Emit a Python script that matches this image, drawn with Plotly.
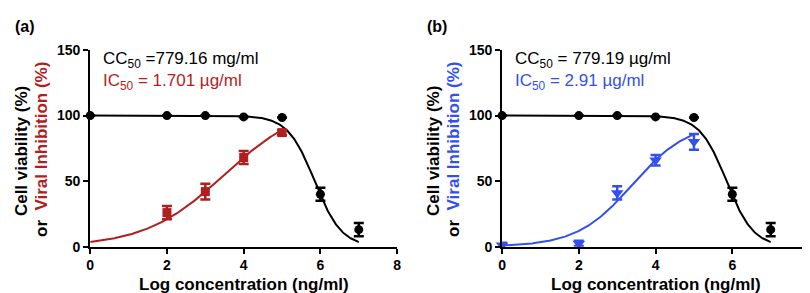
import numpy as np
import plotly.graph_objects as go

# ---- data ----
log_conc = [0, 2, 3, 4, 5, 6, 7]
viability = [100, 100, 100, 99, 98.5, 40, 13]
viability_err = [0, 0, 0, 0, 0, 5, 5]

inh_a_x = [2, 3, 4, 5]
inh_a = [26, 42, 68, 87]
inh_a_err = [5, 6, 5, 2]

inh_b_x = [0, 2, 3, 4, 5]
inh_b = [1, 2.5, 41, 66, 80]
inh_b_err = [2, 2, 5, 4, 6]

# fitted 4-parameter logistic parameters (bottom, top, logEC50, hill)
fit_cc = dict(bottom=0, top=100, logec=5.85, hill=-1.24)
fit_ic_a = dict(bottom=0, top=110, logec=3.5, hill=0.42)
fit_ic_b = dict(bottom=0, top=95, logec=3.4, hill=0.6)

x_ticks = [0, 2, 4, 6, 8]
y_ticks = [0, 50, 100, 150]

RED = "#B01E1E"
BLUE = "#3350EE"
FONT = "Liberation Sans, Arial, sans-serif"


def fourpl(x, p):
    x = np.asarray(x, dtype=float)
    return p["bottom"] + (p["top"] - p["bottom"]) / (1 + 10 ** ((p["logec"] - x) * p["hill"]))


fig = go.Figure()

panels = [
    dict(xa="x", ya="y", ix=inh_a_x, iy=inh_a, ie=inh_a_err, fit=fit_ic_a, color=RED,
         symbol="square", size=9, cc_txt="CC<sub>50</sub> =779.16 mg/ml",
         ic_txt="IC<sub>50</sub> = 1.701 µg/ml", label="(a)"),
    dict(xa="x2", ya="y2", ix=inh_b_x, iy=inh_b, ie=inh_b_err, fit=fit_ic_b, color=BLUE,
         symbol="triangle-down", size=11, cc_txt="CC<sub>50</sub> = 779.19 µg/ml",
         ic_txt="IC<sub>50</sub> = 2.91 µg/ml", label="(b)"),
]

xc = np.linspace(0, 7, 300)
for p in panels:
    xi = np.linspace(0, 5, 300)
    fig.add_trace(go.Scatter(x=xc, y=fourpl(xc, fit_cc), mode="lines",
                             line=dict(color="black", width=2), xaxis=p["xa"], yaxis=p["ya"],
                             cliponaxis=False, hoverinfo="skip"))
    fig.add_trace(go.Scatter(x=xi, y=fourpl(xi, p["fit"]), mode="lines",
                             line=dict(color=p["color"], width=2), xaxis=p["xa"], yaxis=p["ya"],
                             cliponaxis=False, hoverinfo="skip"))
    fig.add_trace(go.Scatter(x=log_conc, y=viability, mode="markers",
                             marker=dict(color="black", size=9, symbol="circle"),
                             error_y=dict(type="data", array=viability_err, color="black",
                                          thickness=2.5, width=5, visible=True),
                             xaxis=p["xa"], yaxis=p["ya"], cliponaxis=False))
    fig.add_trace(go.Scatter(x=p["ix"], y=p["iy"], mode="markers",
                             marker=dict(color=p["color"], size=p["size"], symbol=p["symbol"]),
                             error_y=dict(type="data", array=p["ie"], color=p["color"],
                                          thickness=2.5, width=5, visible=True),
                             xaxis=p["xa"], yaxis=p["ya"], cliponaxis=False))

W, H = 810, 293
ax_common = dict(showgrid=False, zeroline=False, showline=True, linecolor="black", linewidth=2,
                 ticks="outside", ticklen=5, tickwidth=2, tickcolor="black",
                 tickfont=dict(family=FONT, size=14, color="black", weight="bold"))

y_dom = [(H - 244) / H, (H - 36) / H]
layout = dict(
    width=W, height=H, margin=dict(l=0, r=0, t=0, b=0),
    paper_bgcolor="white", plot_bgcolor="white", showlegend=False,
    xaxis=dict(domain=[79 / W, 389 / W], range=[0, 8], tickvals=x_ticks, anchor="y", **ax_common),
    yaxis=dict(domain=y_dom, range=[0, 150], tickvals=y_ticks, anchor="x", **ax_common),
    xaxis2=dict(domain=[495 / W, 805 / W], range=[0, 8], tickvals=x_ticks, anchor="y2", **ax_common),
    yaxis2=dict(domain=y_dom, range=[0, 150], tickvals=y_ticks, anchor="x2", **ax_common),
)
fig.update_layout(**layout)

ann = []
offsets = [0, 416]
for p, off in zip(panels, offsets):
    ann.append(dict(x=(off + 1) / W, y=1 - 11 / H, xref="paper", yref="paper", xanchor="left",
                    yanchor="middle", text="<b>" + p["label"] + "</b>", showarrow=False,
                    font=dict(family=FONT, size=16, color="black")))
    ann.append(dict(x=(off + 90) / W, y=1 - 47 / H, xref="paper", yref="paper", xanchor="left",
                    yanchor="middle", text=p["cc_txt"], showarrow=False,
                    font=dict(family=FONT, size=17, color="black")))
    ann.append(dict(x=(off + 90) / W, y=1 - 70 / H, xref="paper", yref="paper", xanchor="left",
                    yanchor="middle", text=p["ic_txt"], showarrow=False,
                    font=dict(family=FONT, size=17, color=p["color"])))
    ann.append(dict(x=(off + 9) / W, y=1 - 143 / H, xref="paper", yref="paper", xanchor="center",
                    yanchor="middle", text="<b>Cell viability (%)</b>", showarrow=False,
                    textangle=-90, font=dict(family=FONT, size=17, color="black")))
    ann.append(dict(x=(off + 30) / W, y=1 - 141 / H, xref="paper", yref="paper", xanchor="center",
                    yanchor="middle",
                    text="<b>or  <span style='color:%s'>Viral Inhibition (%%)</span></b>" % p["color"],
                    showarrow=False, textangle=-90,
                    font=dict(family=FONT, size=17, color="black")))
    ann.append(dict(x=(off + 234) / W, y=1 - 284 / H, xref="paper", yref="paper", xanchor="center",
                    yanchor="middle", text="<b>Log concentration (ng/ml)</b>", showarrow=False,
                    font=dict(family=FONT, size=17, color="black")))
fig.update_layout(annotations=ann)

fig.write_html("out.html")
